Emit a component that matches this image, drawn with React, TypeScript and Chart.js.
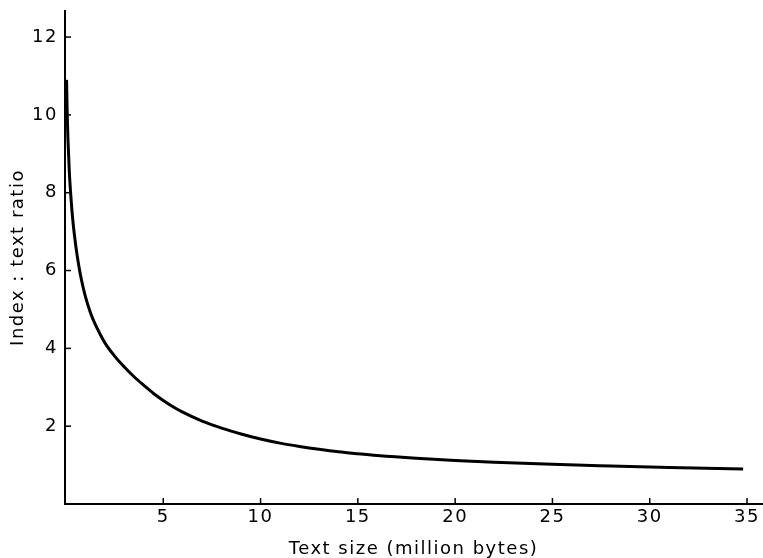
import React, { useEffect, useRef } from 'react';
import { Chart, registerables } from 'chart.js';

Chart.register(...registerables);

// Text size (million bytes)
const textSizeMB = [0.03, 0.06, 0.1, 0.17, 0.26, 0.35, 0.5, 0.65, 0.8, 1.0, 1.25, 1.5, 1.75, 2.0, 2.5, 3.0, 3.5, 4.0, 4.5, 5.0, 5.5, 6.0, 7.0, 8.0, 9.0, 10.0, 11.0, 12.0, 13.0, 14.0, 15.0, 16.0, 18.0, 20.0, 22.0, 25.0, 28.0, 31.0, 34.8];
// Index : text ratio
const indexTextRatio = [10.9, 10.1, 9.4, 8.55, 7.85, 7.3, 6.65, 6.15, 5.75, 5.33, 4.93, 4.62, 4.37, 4.14, 3.8, 3.52, 3.27, 3.05, 2.84, 2.66, 2.5, 2.36, 2.13, 1.95, 1.8, 1.67, 1.565, 1.48, 1.405, 1.34, 1.29, 1.245, 1.175, 1.12, 1.075, 1.02, 0.978, 0.94, 0.9];

const xTicks = [5, 10, 15, 20, 25, 30, 35];
const yTicks = [2, 4, 6, 8, 10, 12];

const xTitle = 'Text size (million bytes)';
const yTitle = 'Index : text ratio';

const FONT = 'DejaVu Sans, Liberation Sans, sans-serif';

const innerTicks = {
  id: 'innerTicks',
  afterDatasetsDraw(chart: any) {
    const { ctx, chartArea, scales } = chart;
    const x = scales.x;
    const y = scales.y;
    ctx.save();
    ctx.strokeStyle = '#000';
    ctx.lineWidth = 1.5;
    x.ticks.forEach((t: any) => {
      const px = x.getPixelForValue(t.value);
      ctx.beginPath();
      ctx.moveTo(px, chartArea.bottom);
      ctx.lineTo(px, chartArea.bottom - 6);
      ctx.stroke();
    });
    y.ticks.forEach((t: any) => {
      const py = y.getPixelForValue(t.value);
      ctx.beginPath();
      ctx.moveTo(chartArea.left, py);
      ctx.lineTo(chartArea.left + 6, py);
      ctx.stroke();
    });
    ctx.restore();
  },
};

const spacing = {
  id: 'spacing',
  beforeDraw(chart: any) {
    chart.ctx.letterSpacing = '1.5px';
  },
  afterDraw(chart: any) {
    chart.ctx.letterSpacing = '0px';
  },
};

export default function App() {
  const ref = useRef<HTMLCanvasElement | null>(null);

  useEffect(() => {
    if (!ref.current) return;
    const chart = new Chart(ref.current, {
      type: 'line',
      data: {
        datasets: [
          {
            data: textSizeMB.map((x, i) => ({ x, y: indexTextRatio[i] })),
            borderColor: '#000',
            borderWidth: 3,
            pointRadius: 0,
            cubicInterpolationMode: 'monotone',
            fill: false,
          },
        ],
      },
      options: {
        animation: false,
        responsive: false,
        devicePixelRatio: 1,
        layout: { padding: { top: 11, right: 1, left: 0, bottom: 0 } },
        plugins: { legend: { display: false }, tooltip: { enabled: false } },
        scales: {
          x: {
            type: 'linear',
            min: -0.05,
            max: 35.77,
            afterBuildTicks: (s: any) => {
              s.ticks = xTicks.map((v) => ({ value: v }));
            },
            afterFit: (s: any) => {
              s.height = 54;
              s.paddingLeft = 0;
              s.paddingRight = 0;
            },
            grid: { display: false, drawTicks: false },
            border: { display: true, color: '#000', width: 2 },
            ticks: {
              color: '#000',
              font: { family: FONT, size: 18 },
              padding: 3,
              maxRotation: 0,
              autoSkip: false,
            },
            title: {
              display: true,
              text: xTitle,
              color: '#000',
              font: { family: FONT, size: 18, lineHeight: 1.2 },
              padding: { top: 0, bottom: -2 },
            },
          },
          y: {
            type: 'linear',
            min: 0,
            max: 12.67,
            afterBuildTicks: (s: any) => {
              s.ticks = yTicks.map((v) => ({ value: v }));
            },
            afterFit: (s: any) => {
              s.width = 65;
              s.paddingTop = 0;
              s.paddingBottom = 0;
            },
            grid: { display: false, drawTicks: false },
            border: { display: true, color: '#000', width: 2 },
            ticks: {
              color: '#000',
              font: { family: FONT, size: 18 },
              padding: 7,
            },
            title: {
              display: true,
              text: yTitle,
              color: '#000',
              font: { family: FONT, size: 18, lineHeight: 1.2 },
              padding: { top: 8, bottom: 0 },
            },
          },
        },
      },
      plugins: [innerTicks, spacing],
    } as any);
    return () => chart.destroy();
  }, []);

  return (
    <div style={{ position: 'fixed', left: 0, top: 0, width: 763, height: 558, background: '#fff' }}>
      <canvas ref={ref} width={763} height={558} />
    </div>
  );
}
